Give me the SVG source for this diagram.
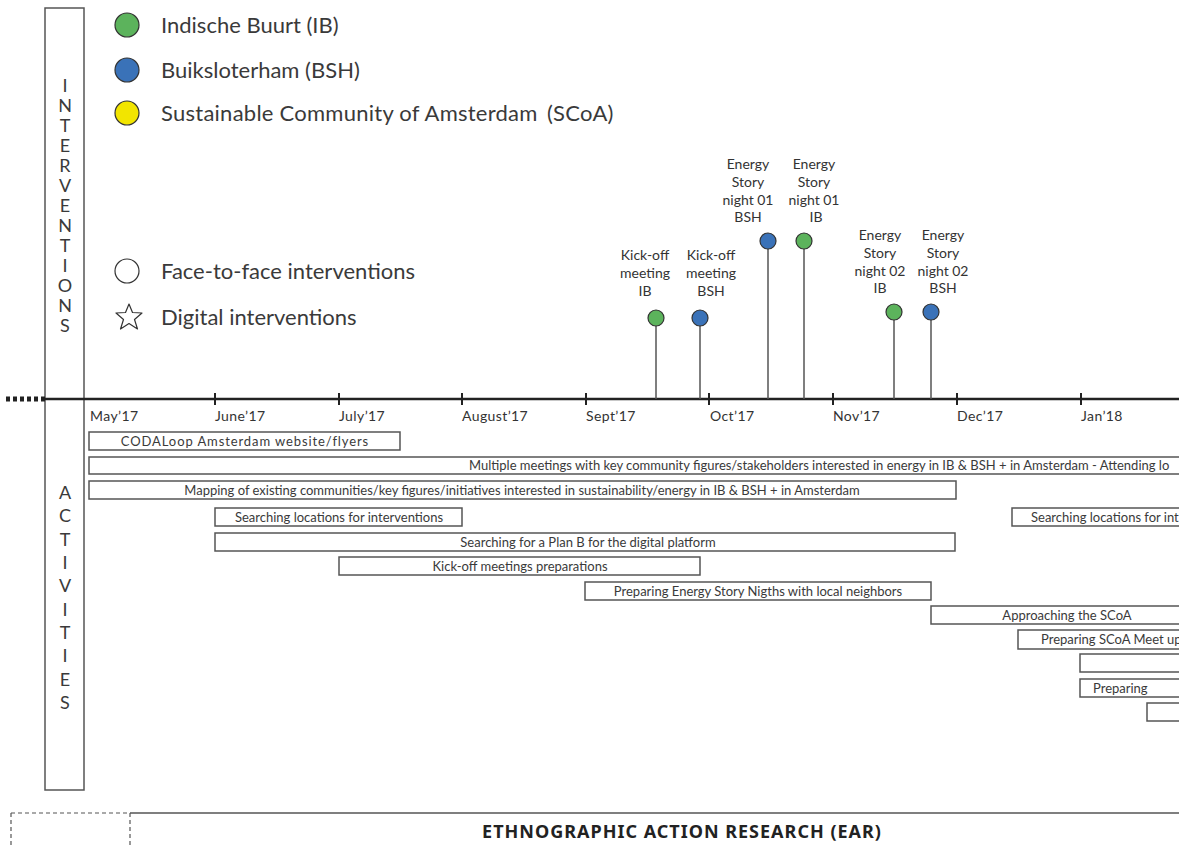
<svg xmlns="http://www.w3.org/2000/svg" width="1179" height="848" viewBox="0 0 1179 848">
<style>
text{font-family:Lato,"Noto Sans","DejaVu Sans",sans-serif;fill:#333}
.leg{font-size:22px;fill:#3a3a3a}
.vert{font-size:18px;text-anchor:middle;fill:#3a3a3a}
.mon{font-size:14px;letter-spacing:0.4px}
.lab{font-size:14px;text-anchor:middle}
.bar{fill:#fff;stroke:#555;stroke-width:1.5}
.bt{font-size:13px;fill:#3a3a3a}
.c{text-anchor:middle}
.stem{stroke:#555;stroke-width:1.5}
.ib{fill:#5cb35c;stroke:#333;stroke-width:1.2}
.bsh{fill:#3a72b8;stroke:#333;stroke-width:1.2}
.tick{stroke:#222;stroke-width:2}
</style>
<rect width="1179" height="848" fill="#fff"/>
<g id="side-column">
<rect x="45" y="8" width="39" height="782" fill="none" stroke="#555" stroke-width="1.5"/>
<text class="vert"><tspan x="65" y="92">I</tspan><tspan x="65" y="112">N</tspan><tspan x="65" y="132">T</tspan><tspan x="65" y="152">E</tspan><tspan x="65" y="172">R</tspan><tspan x="65" y="192">V</tspan><tspan x="65" y="212">E</tspan><tspan x="65" y="232">N</tspan><tspan x="65" y="252">T</tspan><tspan x="65" y="272">I</tspan><tspan x="65" y="292">O</tspan><tspan x="65" y="312">N</tspan><tspan x="65" y="332">S</tspan></text>
<text class="vert"><tspan x="65" y="499">A</tspan><tspan x="65" y="522">C</tspan><tspan x="65" y="546">T</tspan><tspan x="65" y="569">I</tspan><tspan x="65" y="592">V</tspan><tspan x="65" y="616">I</tspan><tspan x="65" y="639">T</tspan><tspan x="65" y="662">I</tspan><tspan x="65" y="686">E</tspan><tspan x="65" y="709">S</tspan></text>
</g>
<g id="legend">
<circle class="ib" cx="127" cy="25" r="12"/>
<text class="leg" x="161" y="33">Indische Buurt (IB)</text>
<circle class="bsh" cx="127" cy="70" r="12"/>
<text class="leg" x="161" y="78">Buiksloterham (BSH)</text>
<circle cx="127" cy="113" r="12" fill="#f2e500" stroke="#333" stroke-width="1.2"/>
<text class="leg" x="161" y="121" letter-spacing="0.25">Sustainable Community of Amsterdam<tspan x="547">(SCoA)</tspan></text>
<circle cx="127" cy="271" r="12" fill="#fff" stroke="#333" stroke-width="1.2"/>
<text class="leg" x="161" y="279">Face-to-face interventions</text>
<polygon points="129,304 132.5,312.5 142,313 134.5,319.5 137.5,329 129,323.5 120.5,329 123.5,319.5 116,313 125.5,312.5" fill="#fff" stroke="#333" stroke-width="1.2" stroke-linejoin="round"/>
<text class="leg" x="161" y="325">Digital interventions</text>
</g>
<g id="timeline">
<line x1="45" y1="399" x2="1179" y2="399" stroke="#222" stroke-width="2.5"/>
<line x1="6" y1="399" x2="45" y2="399" stroke="#222" stroke-width="5" stroke-dasharray="4,3"/>
<line class="tick" x1="215" y1="393" x2="215" y2="405"/>
<line class="tick" x1="339" y1="393" x2="339" y2="405"/>
<line class="tick" x1="462" y1="393" x2="462" y2="405"/>
<line class="tick" x1="586" y1="393" x2="586" y2="405"/>
<line class="tick" x1="709" y1="393" x2="709" y2="405"/>
<line class="tick" x1="833" y1="393" x2="833" y2="405"/>
<line class="tick" x1="957" y1="393" x2="957" y2="405"/>
<line class="tick" x1="1081" y1="393" x2="1081" y2="405"/>
<g class="mon">
<text x="90" y="421">May’17</text>
<text x="215" y="421">June’17</text>
<text x="339" y="421">July’17</text>
<text x="462" y="421">August’17</text>
<text x="586" y="421">Sept’17</text>
<text x="710" y="421">Oct’17</text>
<text x="833" y="421">Nov’17</text>
<text x="957" y="421">Dec’17</text>
<text x="1081" y="421">Jan’18</text>
</g>
</g>
<g id="connectors">
<line class="stem" x1="656" y1="326" x2="656" y2="399"/>
<line class="stem" x1="700" y1="326" x2="700" y2="399"/>
<line class="stem" x1="768" y1="249" x2="768" y2="399"/>
<line class="stem" x1="804" y1="249" x2="804" y2="399"/>
<line class="stem" x1="894" y1="320" x2="894" y2="399"/>
<line class="stem" x1="931" y1="320" x2="931" y2="399"/>
</g>
<g id="kickoff-ib">
<circle class="ib" cx="656" cy="318" r="8"/>
<text class="lab" x="645" y="260">Kick-off</text><text class="lab" x="645" y="278">meeting</text><text class="lab" x="645" y="296">IB</text>
</g>
<g id="kickoff-bsh">
<circle class="bsh" cx="700" cy="318" r="8"/>
<text class="lab" x="711" y="260">Kick-off</text><text class="lab" x="711" y="278">meeting</text><text class="lab" x="711" y="296">BSH</text>
</g>
<g id="esn01-bsh">
<circle class="bsh" cx="768" cy="241" r="8"/>
<text class="lab" x="748" y="169">Energy</text><text class="lab" x="748" y="187">Story</text><text class="lab" x="748" y="205">night 01</text><text class="lab" x="748" y="222">BSH</text>
</g>
<g id="esn01-ib">
<circle class="ib" cx="804" cy="241" r="8"/>
<text class="lab" x="814" y="169">Energy</text><text class="lab" x="814" y="187">Story</text><text class="lab" x="814" y="205">night 01</text><text class="lab" x="816" y="222">IB</text>
</g>
<g id="esn02-ib">
<circle class="ib" cx="894" cy="312" r="8"/>
<text class="lab" x="880" y="240">Energy</text><text class="lab" x="880" y="258">Story</text><text class="lab" x="880" y="276">night 02</text><text class="lab" x="880" y="293">IB</text>
</g>
<g id="esn02-bsh">
<circle class="bsh" cx="931" cy="312" r="8"/>
<text class="lab" x="943" y="240">Energy</text><text class="lab" x="943" y="258">Story</text><text class="lab" x="943" y="276">night 02</text><text class="lab" x="943" y="293">BSH</text>
</g>
<g id="activities">
<g id="act-codaloop"><rect class="bar" x="89" y="432" width="311" height="18"/><text class="bt c" x="245" y="446" letter-spacing="0.9">CODALoop Amsterdam website/flyers</text></g>
<g id="act-meetings"><rect class="bar" x="89" y="457" width="1100" height="17"/><text class="bt" x="469" y="470">Multiple meetings with key community figures/stakeholders interested in energy in IB &amp; BSH + in Amsterdam - Attending lo</text></g>
<g id="act-mapping"><rect class="bar" x="89" y="481" width="867" height="18"/><text class="bt c" x="522" y="495">Mapping of existing communities/key figures/initiatives interested in sustainability/energy in IB &amp; BSH + in Amsterdam</text></g>
<g id="act-locations"><rect class="bar" x="215" y="508" width="247" height="18"/><text class="bt c" x="339" y="522">Searching locations for interventions</text></g>
<g id="act-locations-2"><rect class="bar" x="1012" y="508" width="180" height="18"/><text class="bt" x="1031" y="522">Searching locations for int</text></g>
<g id="act-planb"><rect class="bar" x="215" y="533" width="740" height="18"/><text class="bt c" x="588" y="547">Searching for a Plan B for the digital platform</text></g>
<g id="act-kickoff"><rect class="bar" x="339" y="557" width="361" height="18"/><text class="bt c" x="520" y="571">Kick-off meetings preparations</text></g>
<g id="act-esn"><rect class="bar" x="585" y="582" width="346" height="18"/><text class="bt c" x="758" y="596">Preparing Energy Story Nigths with local neighbors</text></g>
<g id="act-scoa"><rect class="bar" x="931" y="606" width="260" height="18"/><text class="bt c" x="1067" y="620">Approaching the SCoA</text></g>
<g id="act-scoa-meet"><rect class="bar" x="1018" y="630" width="175" height="19"/><text class="bt" x="1041" y="644">Preparing SCoA Meet up</text></g>
<g id="act-empty-1"><rect class="bar" x="1080" y="654" width="110" height="18"/></g>
<g id="act-preparing"><rect class="bar" x="1080" y="679" width="110" height="18"/><text class="bt" x="1093" y="693">Preparing</text></g>
<g id="act-empty-2"><rect class="bar" x="1147" y="703" width="50" height="18"/></g>
</g>
<g id="ear">
<line x1="130" y1="813" x2="1179" y2="813" stroke="#555" stroke-width="1.5"/>
<path d="M11,813 H130 M11,813 V848 M130,813 V848" fill="none" stroke="#555" stroke-width="1.2" stroke-dasharray="4,3"/>
<text x="682" y="838" text-anchor="middle" font-size="18" font-weight="bold" letter-spacing="1" style="font-family:'Noto Sans',Lato,sans-serif;fill:#222">ETHNOGRAPHIC ACTION RESEARCH (EAR)</text>
</g>
</svg>
